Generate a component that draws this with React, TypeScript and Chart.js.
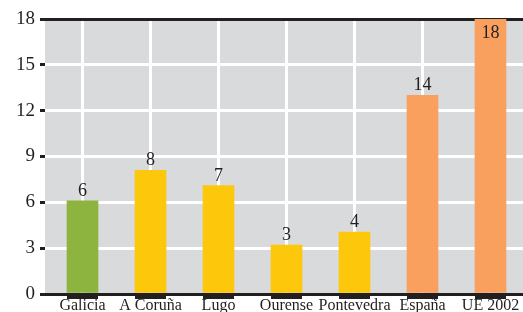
import React, { useEffect, useRef } from "react";
import { Chart, registerables } from "chart.js";

Chart.register(...registerables);

const categories = ["Galicia", "A Coruña", "Lugo", "Ourense", "Pontevedra", "España", "UE 2002"];
const values = [6.1, 8.1, 7.1, 3.2, 4.05, 13, 18];
const valueLabels = ["6", "8", "7", "3", "4", "14", "18"];
const barColors = ["#8cb43f", "#fdc80b", "#fdc80b", "#fdc80b", "#fdc80b", "#f9a05e", "#f9a05e"];
const yTicks = [0, 3, 6, 9, 12, 15, 18];

const BLACK = "#231f20";
const GREY = "#d9dadc";
const FONT = "'Liberation Serif', 'Times New Roman', serif";

const bgPlugin = {
  id: "bg",
  beforeDraw(chart: any) {
    const { ctx, chartArea } = chart;
    ctx.save();
    ctx.fillStyle = GREY;
    ctx.fillRect(chartArea.left, chartArea.top, chartArea.right - chartArea.left, chartArea.bottom - chartArea.top);
    ctx.restore();
  },
};

const labelPlugin = {
  id: "valueLabels",
  afterDatasetsDraw(chart: any) {
    const { ctx } = chart;
    const meta = chart.getDatasetMeta(0);
    ctx.save();
    ctx.fillStyle = BLACK;
    ctx.font = `18px ${FONT}`;
    ctx.textAlign = "center";
    ctx.textBaseline = "alphabetic";
    meta.data.forEach((el: any, i: number) => {
      const inside = values[i] >= 17;
      ctx.fillText(valueLabels[i], el.x, inside ? el.y + 19 : el.y - 5);
    });
    ctx.restore();
  },
};

export default function App() {
  const ref = useRef<HTMLCanvasElement>(null);
  useEffect(() => {
    if (!ref.current) return;
    const chart = new Chart(ref.current, {
      type: "bar",
      data: {
        datasets: [
          {
            data: values.map((v, i) => ({ x: i, y: v })) as any,
            backgroundColor: barColors,
            borderWidth: 0,
            barThickness: 31,
          },
        ],
      },
      options: {
        animation: false,
        responsive: false,
        maintainAspectRatio: false,
        layout: { padding: { top: 19, left: 0, right: 0, bottom: 0 } },
        plugins: { legend: { display: false }, tooltip: { enabled: false } },
        scales: {
          x: {
            type: "linear",
            offset: false,
            min: -0.5515,
            max: 6.478,
            afterBuildTicks: (s: any) => {
              s.ticks = categories.map((_, i) => ({ value: i }));
            },
            afterFit: (s: any) => {
              s.height = 18;
            },
            ticks: {
              callback: (_v: any, i: number) => categories[i],
              autoSkip: false,
              maxRotation: 0,
              minRotation: 0,
              color: BLACK,
              font: { family: FONT, size: 16 },
              padding: -3,
            },
            grid: {
              offset: false,
              color: "#ffffff",
              lineWidth: 3,
              tickColor: BLACK,
              tickLength: 5,
              tickWidth: 31,
              z: -1,
            },
            border: { display: false },
          },
          y: {
            min: 0,
            max: 18,
            afterBuildTicks: (s: any) => {
              s.ticks = yTicks.map((v) => ({ value: v }));
            },
            afterFit: (s: any) => {
              s.width = 45;
            },
            ticks: {
              color: BLACK,
              font: { family: FONT, size: 19 },
              padding: 5,
            },
            grid: {
              color: (c: any) =>
                c.tick && (c.tick.value === 0 || c.tick.value === 18) ? BLACK : "#ffffff",
              lineWidth: 3,
              tickColor: BLACK,
              tickLength: 5,
              tickWidth: 3,
            },
            border: { display: false },
          },
        },
      },
      plugins: [bgPlugin, labelPlugin],
    });
    return () => chart.destroy();
  }, []);
  return (
    <div style={{ position: "absolute", left: 0, top: 0, width: 523, height: 312, background: "#fff" }}>
      <canvas ref={ref} width={523} height={312} style={{ display: "block" }} />
    </div>
  );
}
